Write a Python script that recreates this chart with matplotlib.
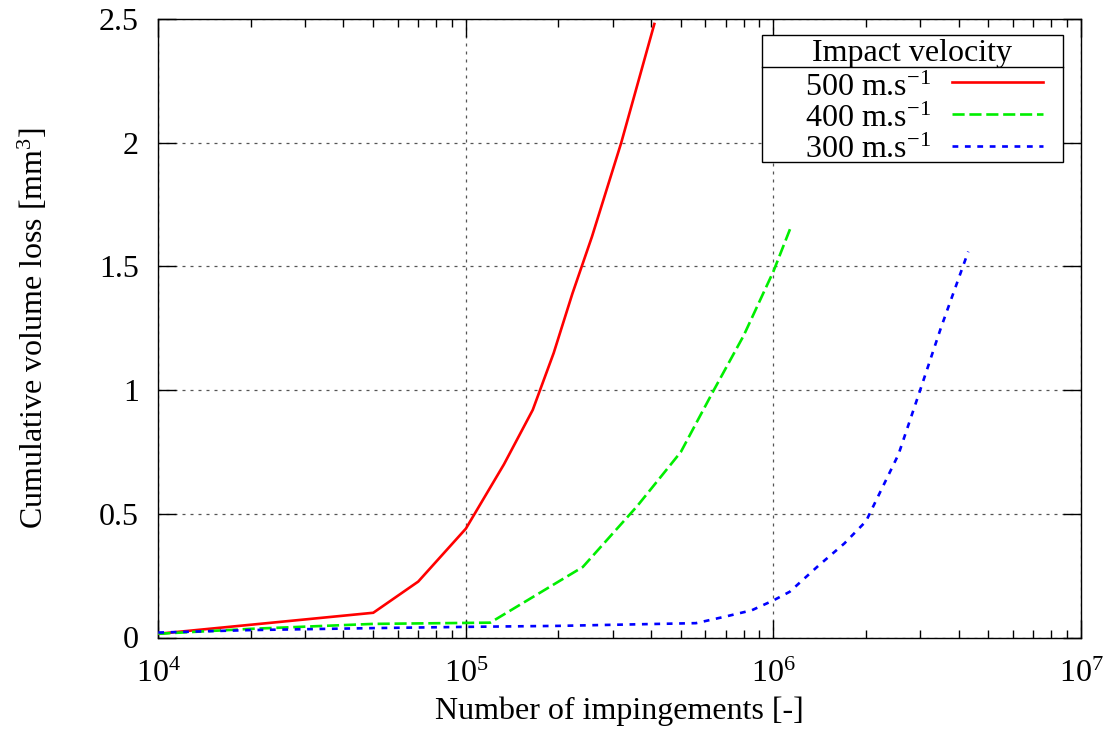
import matplotlib
matplotlib.use("Agg")
import matplotlib.pyplot as plt
from matplotlib.ticker import LogLocator, FixedLocator, FixedFormatter, NullLocator
from matplotlib.patches import Rectangle
from matplotlib.lines import Line2D

plt.rcParams['font.family'] = ['Liberation Serif', 'DejaVu Serif']
plt.rcParams['mathtext.fontset'] = 'custom'
plt.rcParams['mathtext.rm'] = 'Liberation Serif'
plt.rcParams['mathtext.it'] = 'Liberation Serif:italic'
plt.rcParams['mathtext.bf'] = 'Liberation Serif:bold'

# Data
x_500 = [1e4, 5e4, 7e4, 1e5, 1.33e5, 1.65e5, 1.93e5, 2.22e5, 2.57e5, 3.2e5, 4.1e5]
y_500 = [0.015, 0.10, 0.226, 0.44, 0.70, 0.92, 1.15, 1.39, 1.62, 2.0, 2.48]

x_400 = [1e4, 2e4, 5e4, 1.2e5, 2.4e5, 3.6e5, 5e5, 6.4e5, 8e5, 1e6, 1.14e6]
y_400 = [0.015, 0.035, 0.055, 0.06, 0.285, 0.53, 0.75, 1.0, 1.22, 1.48, 1.66]

x_300 = [1e4, 2e4, 5e4, 1e5, 2e5, 5.6e5, 7e5, 8.5e5, 1e6, 1.13e6, 1.4e6, 1.7e6,
         2e6, 2.55e6, 3e6, 3.5e6, 4.3e6]
y_300 = [0.02, 0.03, 0.038, 0.043, 0.047, 0.058, 0.085, 0.11, 0.15, 0.185, 0.29,
         0.38, 0.47, 0.74, 1.0, 1.25, 1.56]

series_labels = [r"500 m.s$^{-1}$", r"400 m.s$^{-1}$", r"300 m.s$^{-1}$"]
series_colors = ["#ff0000", "#00ee00", "#0000ff"]
legend_title = "Impact velocity"
y_ticks = [0, 0.5, 1, 1.5, 2, 2.5]
y_ticklabels = ["0", "0.5", "1", "1.5", "2", "2.5"]

FS = 23
W, H = 1106, 734
AX_L, AX_R, AX_T, AX_B = 158.3, 1081.0, 19.0, 637.5
AW, AH = AX_R - AX_L, AX_B - AX_T

fig = plt.figure(figsize=(W / 100, H / 100), dpi=100)
ax = fig.add_axes([AX_L / W, 1 - AX_B / H, AW / W, AH / H])

styles = ["-", (0, (4.6, 1.8)), (0, (2.2, 2.5))]
lw = 1.9
data = [(x_500, y_500), (x_400, y_400), (x_300, y_300)]
for (xs, ys), c, ls in zip(data, series_colors, styles):
    ax.plot(xs, ys, color=c, linestyle=ls, linewidth=lw, zorder=3,
            solid_joinstyle="miter")

ax.set_xscale("log")
ax.set_xlim(1e4, 1e7)
ax.set_ylim(0, 2.5)
ax.yaxis.set_major_locator(FixedLocator(y_ticks))
ax.yaxis.set_major_formatter(FixedFormatter(y_ticklabels))
ax.yaxis.set_minor_locator(NullLocator())
ax.xaxis.set_major_locator(LogLocator(base=10, numticks=10))
ax.xaxis.set_minor_locator(LogLocator(base=10, subs=range(2, 10), numticks=20))

ax.tick_params(which="both", direction="in", top=True, right=True, labelsize=FS,
               width=1.0, color="black")
ax.tick_params(which="major", length=13)
ax.tick_params(which="minor", length=6)
ax.tick_params(axis="x", pad=16)
ax.tick_params(axis="y", pad=14)

for s in ax.spines.values():
    s.set_linewidth(1.0)

ax.grid(True, which="major", color="#555555", linestyle=(0, (2.4, 4)), linewidth=0.9)

ax.set_xlabel("Number of impingements [-]", fontsize=FS)
ax.xaxis.set_label_coords(0.5, -(696 - AX_B) / AH)
ax.set_ylabel(r"Cumulative volume loss [mm$^3$]", fontsize=FS)
ax.yaxis.label.set_va("center")
ax.yaxis.set_label_coords((33 - AX_L) / AW, 0.5)

# Legend box drawn manually in axes coordinates
def xfrac(px):
    return (px - AX_L) / AW

def yfrac(py):
    return 1 - (py - AX_T) / AH

bx0, bx1 = xfrac(762), xfrac(1063)
by0, by1 = yfrac(162), yfrac(35)
ysep = yfrac(67)
ax.add_patch(Rectangle((bx0, by0), bx1 - bx0, by1 - by0, transform=ax.transAxes,
                       facecolor="white", edgecolor="black", linewidth=1.0, zorder=5))
ax.add_line(Line2D([bx0, bx1], [ysep, ysep], transform=ax.transAxes,
                   color="black", linewidth=1.0, zorder=6))
ax.text((bx0 + bx1) / 2, yfrac(61.5), legend_title, transform=ax.transAxes,
        ha="center", va="baseline", fontsize=FS, zorder=7)
line_py = [82, 114, 146]
base_py = [96, 127, 158]
lx0, lx1 = xfrac(952), xfrac(1043)
tx = xfrac(931)
for lp, bp, lab, c, ls in zip(line_py, base_py, series_labels, series_colors, styles):
    ax.add_line(Line2D([lx0, lx1], [yfrac(lp), yfrac(lp)], transform=ax.transAxes,
                       color=c, linestyle=ls, linewidth=lw, zorder=7))
    ax.text(tx, yfrac(bp), lab, transform=ax.transAxes, ha="right", va="baseline",
            fontsize=FS, zorder=7)

fig.savefig("out.png", dpi=100)
